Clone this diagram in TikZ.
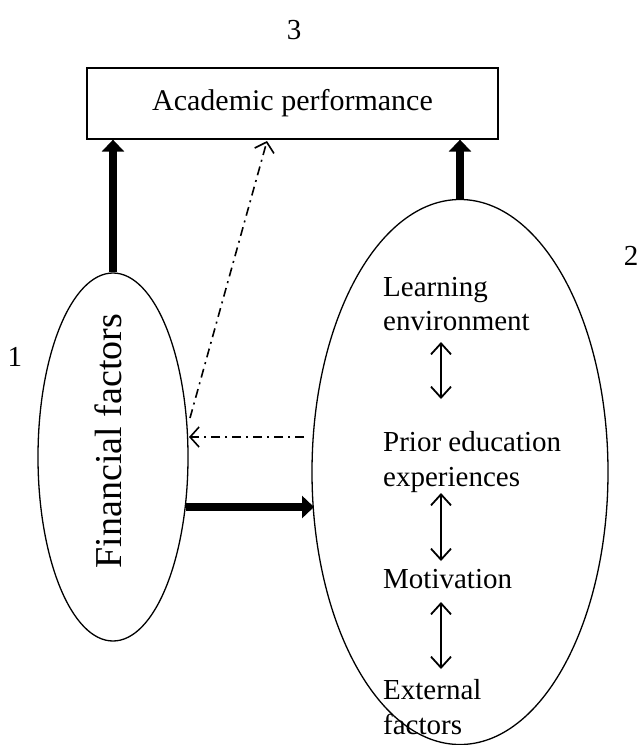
\documentclass[tikz,border=0pt]{standalone}
\usepackage{fontspec}
\setmainfont{Liberation Serif}
\usetikzlibrary{arrows.meta,shapes.geometric}
\tikzset{
  lbl/.style={font=\fontsize{29}{35}\selectfont, inner sep=0pt},
  biglbl/.style={font=\fontsize{30}{36}\selectfont, inner sep=0pt},
  numlbl/.style={font=\fontsize{29}{30}\selectfont, inner sep=0pt},
  shapeline/.style={draw=black, line width=1.3pt},
  thickarrow/.style={line width=7.5pt, -{Triangle[width=22pt,length=12pt]}},
  dasharrow/.style={line width=1.6pt, dash pattern=on 9pt off 5pt on 2pt off 5pt, -{Straight Barb[length=9pt,width=20pt,line width=1.6pt]}},
  dblarrow/.style={line width=1.8pt, {Straight Barb[length=11pt,width=20pt]}-{Straight Barb[length=11pt,width=20pt]}},
}
\begin{document}
\begin{tikzpicture}[x=1pt,y=-1pt]
\useasboundingbox (0,0) rectangle (640,745);
% main shapes
\node[shapeline, rectangle, minimum width=411pt, minimum height=71pt, inner sep=0pt, biglbl] (acad) at (292.5,103.5) {Academic performance};
\node[shapeline, ellipse, minimum width=150pt, minimum height=368pt, inner sep=0pt] (fin) at (113,457) {};
\node[font=\fontsize{38}{40}\selectfont, inner sep=0pt, rotate=90] (fintext) at (108,441) {Financial factors};
\node[shapeline, ellipse, minimum width=296pt, minimum height=545pt, inner sep=0pt] (fac) at (460,472) {};
% texts in right ellipse
\node[lbl, anchor=base west] (le) at (383,296) {Learning};
\node[lbl, anchor=base west] (le2) at (383,330) {environment};
\node[lbl, anchor=base west] (pe) at (383,451) {Prior education};
\node[lbl, anchor=base west] (pe2) at (383,486) {experiences};
\node[lbl, anchor=base west] (mo) at (383,588) {Motivation};
\node[lbl, anchor=base west] (ex) at (383,699) {External};
\node[lbl, anchor=base west] (ex2) at (383,734) {factors};
% numbers
\node[numlbl] (n1) at (15,357) {1};
\node[numlbl] (n2) at (631,256) {2};
\node[numlbl] (n3) at (294,30) {3};
% coordinates
\coordinate (d1s) at (190,418);
\coordinate (d1e) at (267,141);
\coordinate (d2s) at (304,437);
\coordinate (d2e) at (189,437);
\coordinate (hs) at (186,507);
\coordinate (he) at (314,507);
\coordinate (a1s) at (441,342);
\coordinate (a1e) at (441,399);
\coordinate (a2s) at (441,493);
\coordinate (a2e) at (441,561);
\coordinate (a3s) at (441,602);
\coordinate (a3e) at (441,669);
% connectors
\draw[thickarrow] (fin.north) -- (fin.north |- acad.south);
\draw[thickarrow] (fac.north) -- (fac.north |- acad.south);
\draw[thickarrow] (hs) -- (he);
\draw[dasharrow] (d1s) -- (d1e);
\draw[dasharrow] (d2s) -- (d2e);
\draw[dblarrow] (a1s) -- (a1e);
\draw[dblarrow] (a2s) -- (a2e);
\draw[dblarrow] (a3s) -- (a3e);
\end{tikzpicture}
\end{document}
